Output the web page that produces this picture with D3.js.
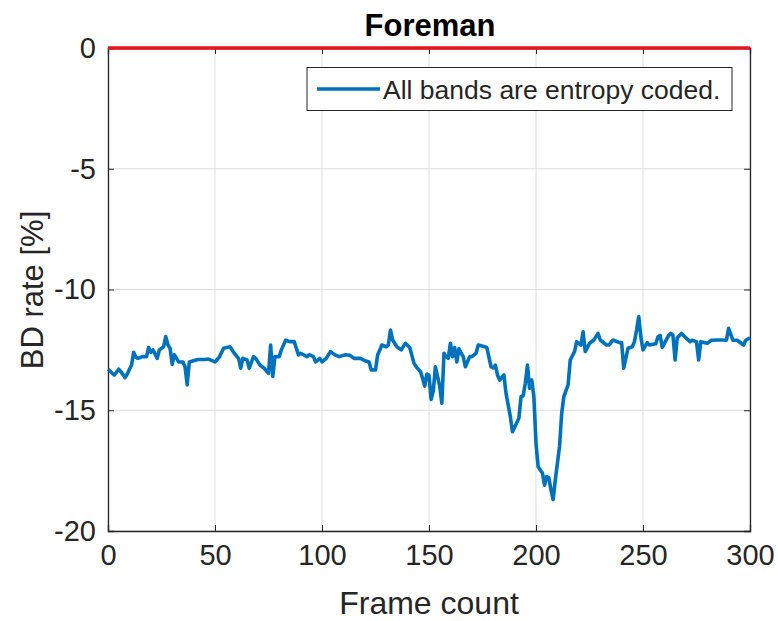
<!DOCTYPE html>
<html><head><meta charset="utf-8">
<script src="https://cdn.jsdelivr.net/npm/d3@7"></script>
<style>body{margin:0;background:#fff}svg text{font-family:"Liberation Sans",Arial,sans-serif;fill:#262626}</style>
</head><body><svg id="c" width="778" height="621"></svg>
<script>
const frames = [0,2,3,5,6,8,9,11,12,13,14,16,18,19,20,21,23,24,26,27,28,29,30,31,33,35,36,37,38,40,42,45,47,50,52,54,57,59,61,62,63,65,66,68,69,71,73,75,76,77,78,80,81,83,85,87,89,90,93,94,96,97,99,100,102,104,106,108,111,113,115,118,120,122,123,125,126,128,130,131,132,133,135,137,139,141,143,144,146,147,148,149,150,151,152,153,155,156,157,158,159,160,161,162,163,164,165,166,167,169,170,172,173,176,177,179,180,181,182,183,185,186,188,189,190,192,193,194,195,196,197,198,199,200,201,202,203,204,205,206,207,208,209,211,212,213,215,216,218,219,221,222,223,225,227,229,230,233,234,236,239,240,241,243,245,246,247,248,249,250,252,253,256,257,258,259,262,263,264,265,266,268,270,272,273,275,276,277,280,282,285,287,289,290,292,294,297,298,300];
const bdRate = [-13.3,-13.47,-13.54,-13.3,-13.4,-13.65,-13.5,-13.13,-12.6,-12.8,-12.85,-12.78,-12.78,-12.4,-12.6,-12.5,-12.85,-12.5,-12.37,-11.95,-12.3,-12.43,-13.1,-12.7,-13.0,-13.0,-13.2,-13.95,-13.0,-12.95,-12.9,-12.9,-12.88,-13.0,-12.8,-12.43,-12.37,-12.64,-12.85,-13.26,-12.85,-12.92,-13.26,-12.78,-12.85,-13.13,-13.26,-13.47,-12.3,-13.6,-12.78,-12.78,-12.5,-12.1,-12.16,-12.16,-12.71,-12.64,-12.78,-12.7,-12.78,-13.0,-12.85,-13.0,-12.85,-12.57,-12.71,-12.78,-12.7,-12.72,-12.85,-12.85,-12.95,-13.0,-13.33,-13.33,-12.71,-12.3,-12.37,-12.3,-11.68,-12.09,-12.37,-12.5,-12.23,-12.4,-13.06,-13.2,-13.4,-13.68,-14.0,-13.5,-13.55,-14.55,-14.2,-13.2,-14.0,-14.71,-12.64,-12.78,-12.85,-12.23,-12.78,-12.4,-13.0,-12.45,-12.64,-12.78,-13.2,-12.78,-12.78,-12.64,-12.3,-12.37,-12.4,-13.2,-13.25,-13.13,-13.54,-13.75,-13.54,-14.3,-15.26,-15.89,-15.7,-15.33,-14.44,-14.4,-13.88,-13.13,-14.09,-13.75,-14.44,-16.37,-17.34,-17.47,-17.6,-18.1,-17.75,-17.8,-18.3,-18.7,-17.9,-16.5,-15.13,-14.44,-13.95,-12.92,-12.57,-12.16,-12.3,-11.75,-12.57,-12.23,-12.09,-11.82,-12.09,-12.3,-12.3,-12.09,-12.2,-12.2,-13.26,-12.43,-12.37,-12.16,-11.68,-11.12,-11.96,-12.5,-12.2,-12.3,-12.25,-11.96,-11.9,-12.4,-11.9,-11.82,-11.9,-12.92,-12.0,-11.82,-12.0,-12.16,-12.1,-12.16,-12.92,-12.16,-12.23,-12.1,-12.09,-12.09,-12.1,-11.61,-12.1,-12.1,-12.3,-12.1,-12.0,-12.16];
const xTicks = [0,50,100,150,200,250,300];
const yTicks = [0,-5,-10,-15,-20];
const refLine = [0,0];
const title = "Foreman", xLabel = "Frame count", yLabel = "BD rate [%]", legendLabel = "All bands are entropy coded.";

const svg = d3.select("#c");
const L=108,R=750,T=48,B=531;
const x = d3.scaleLinear().domain([0,300]).range([L,R]);
const y = d3.scaleLinear().domain([-20,0]).range([B,T]);
const g = svg.append("g");
g.selectAll(".gx").data(xTicks).join("line").attr("x1",d=>x(d)).attr("x2",d=>x(d)).attr("y1",T).attr("y2",B).attr("stroke","#dedede").attr("stroke-width",1);
g.selectAll(".gy").data(yTicks).join("line").attr("y1",d=>y(d)).attr("y2",d=>y(d)).attr("x1",L).attr("x2",R).attr("stroke","#dedede").attr("stroke-width",1);
const ax = d3.axisBottom(x).tickValues(xTicks).tickSize(-6).tickPadding(12).tickFormat(d3.format("d"));
const ay = d3.axisLeft(y).tickValues(yTicks).tickSize(-6).tickPadding(12).tickFormat(d=>d===0?"0":String(d).replace("−","-"));
const gx = svg.append("g").attr("transform",`translate(0,${B})`).call(ax);
const gy = svg.append("g").attr("transform",`translate(${L},0)`).call(ay);
svg.append("g").attr("transform",`translate(0,${T})`).call(d3.axisTop(x).tickValues(xTicks).tickSize(-6).tickFormat(""));
svg.append("g").attr("transform",`translate(${R},0)`).call(d3.axisRight(y).tickValues(yTicks).tickSize(-6).tickFormat(""));
svg.selectAll(".domain").attr("stroke","#262626").attr("stroke-width",1.3);
svg.selectAll(".tick line").attr("stroke","#262626");
gx.selectAll("text").attr("font-size",29).attr("fill","#262626").attr("dy","0.75em");
gy.selectAll("text").attr("font-size",29).attr("fill","#262626");
const line = d3.line().x(d=>x(d[0])).y(d=>y(d[1]));
svg.append("path").datum(frames.map((f,i)=>[f,bdRate[i]])).attr("d",line).attr("fill","none").attr("stroke","#0072BD").attr("stroke-width",3.6).attr("stroke-linejoin","round");
svg.append("path").datum([[0,refLine[0]],[300,refLine[1]]]).attr("d",line).attr("fill","none").attr("stroke","#e8141b").attr("stroke-width",3.5);
const lg = svg.append("g");
lg.append("rect").attr("x",307).attr("y",67.5).attr("width",425).attr("height",43).attr("fill","#fff").attr("stroke","#262626").attr("stroke-width",1);
lg.append("line").attr("x1",317).attr("x2",380).attr("y1",89).attr("y2",89).attr("stroke","#0072BD").attr("stroke-width",3.6);
lg.append("text").attr("x",383).attr("y",89).attr("dy","0.36em").attr("font-size",26.5).text(legendLabel);
svg.append("text").attr("x",430).attr("y",36).attr("text-anchor","middle").attr("font-size",31).attr("font-weight","bold").style("fill","#000").text(title);
svg.append("text").attr("x",429).attr("y",614).attr("text-anchor","middle").attr("font-size",32).text(xLabel);
svg.append("text").attr("transform","translate(43,290) rotate(-90)").attr("text-anchor","middle").attr("font-size",31).text(yLabel);
</script></body></html>
